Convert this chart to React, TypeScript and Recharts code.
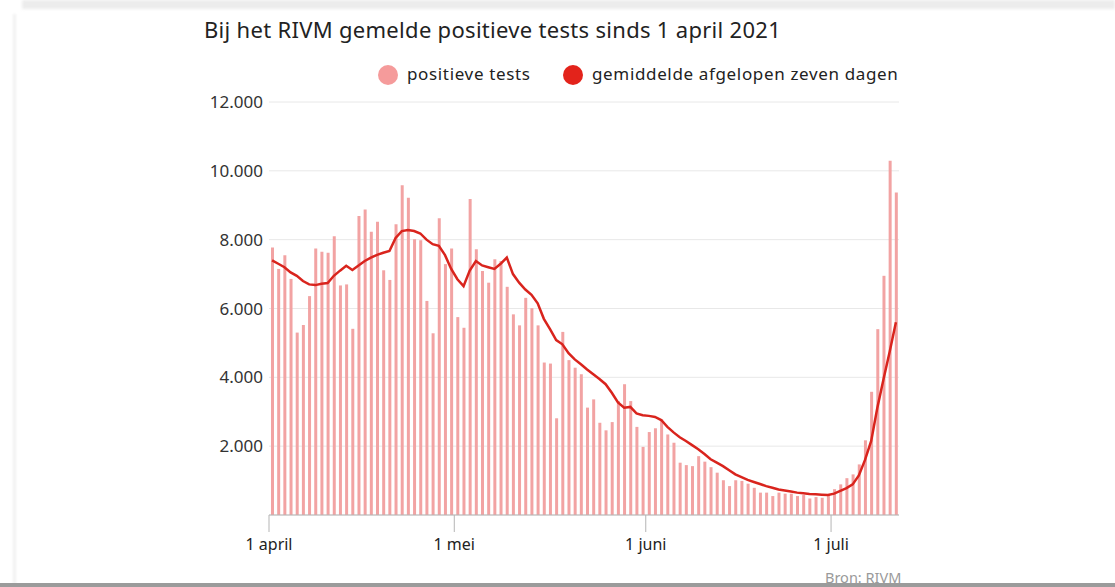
import React from 'react';
import {
  ComposedChart, Bar, Line, XAxis, YAxis, CartesianGrid,
} from 'recharts';

// daily positive tests, 1 april – 11 juli 2021
const tests = [
  7770, 7150, 7550, 6860, 5300, 5520, 6360, 7740, 7650, 7620,
  8100, 6670, 6700, 5410, 8690, 8880, 8230, 8520, 7110, 6830,
  8450, 9580, 9220, 8010, 7980, 6220, 5280, 8620, 7290, 7740,
  5750, 5440, 9180, 7720, 7090, 6750, 7430, 7380, 6630, 5830,
  5510, 6310, 6010, 5510, 4430, 4400, 2810, 5320, 4500, 4280,
  4090, 3120, 3360, 2680, 2460, 2700, 3310, 3800, 3310, 2560,
  1980, 2410, 2520, 2780, 2340, 2100, 1520, 1450, 1420, 1710,
  1550, 1390, 1230, 1010, 840, 1010, 990, 910, 790, 650,
  650, 550, 650, 620, 620, 550, 580, 480, 520, 500,
  580, 750, 890, 1070, 1180, 1470, 2170, 3580, 5400, 6950,
  10290, 9370,
];

// seven-day average as drawn
const average = [
  7400, 7300, 7200, 7050, 6950, 6800, 6700, 6680, 6720, 6740,
  6950, 7100, 7240, 7120, 7250, 7380, 7480, 7560, 7620, 7670,
  8050, 8250, 8280, 8250, 8180, 8000, 7870, 7820, 7550, 7150,
  6850, 6650, 7100, 7380, 7250, 7200, 7150, 7300, 7480, 7000,
  6750, 6550, 6400, 6150, 5700, 5400, 5080, 4960, 4700, 4520,
  4380, 4230, 4090, 3950, 3800, 3550, 3270, 3120, 3140, 2950,
  2900, 2880, 2850, 2760, 2560, 2400, 2260, 2150, 2030, 1910,
  1770, 1620, 1520, 1420, 1300, 1180, 1100, 1020, 960, 900,
  840, 790, 740, 710, 680, 650, 630, 610, 600, 590,
  580, 620, 700, 780, 890, 1150, 1600, 2150, 3120, 3950,
  4750, 5600,
];

const monthTicks = [-0.5, 29.5, 60.5, 90.5];
const monthLabels = ['1 april', '1 mei', '1 juni', '1 juli'];
const valueTicks = [2000, 4000, 6000, 8000, 10000, 12000];

const data = tests.map((v, i) => ({ day: i, tests: v, average: average[i] }));

const FONT = '"Noto Sans", "Open Sans", sans-serif';
const BAR_COLOR = '#f2a3a3';
const LINE_COLOR = '#d9241d';

const fmtThousands = (v: number) => `${v / 1000}.000`;
const fmtMonth = (v: number) => monthLabels[monthTicks.indexOf(v)] ?? '';

const dot = (color: string, cx: number): React.CSSProperties => ({
  position: 'absolute', left: cx - 10, top: 65, width: 20, height: 20,
  borderRadius: 10, background: color,
});

const legendText: React.CSSProperties = {
  position: 'absolute', top: 62, fontSize: 17, letterSpacing: 0.65,
  color: '#222', whiteSpace: 'nowrap',
};

const App: React.FC = () => {
  return (
    <div style={{
      position: 'absolute', left: 0, top: 0, width: 1115, height: 587,
      background: '#fff', overflow: 'hidden', fontFamily: FONT,
    }}>
      {/* frame of the screenshot */}
      <div style={{ position: 'absolute', left: 22, top: 0, width: 1093, height: 9, background: '#ececec', filter: 'blur(1.5px)' }} />
      <div style={{ position: 'absolute', left: 13, top: 14, width: 3, height: 570, background: '#f1f1f1', filter: 'blur(1px)' }} />

      <div style={{
        position: 'absolute', left: 204, top: 14, fontSize: 22, letterSpacing: 0.3,
        color: '#222', whiteSpace: 'nowrap',
      }}>
        Bij het RIVM gemelde positieve tests sinds 1 april 2021
      </div>

      <div style={dot('#f59b9b', 388)} />
      <div style={{ ...legendText, left: 407 }}>positieve tests</div>
      <div style={dot('#e3231b', 573)} />
      <div style={{ ...legendText, left: 592 }}>gemiddelde afgelopen zeven dagen</div>

      <div style={{ position: 'absolute', left: 0, top: 0 }}>
        <ComposedChart
          width={1115}
          height={587}
          data={data}
          margin={{ top: 102, right: 216, bottom: 32, left: 209 }}
        >
          <CartesianGrid vertical={false} stroke="#e8e8e8" />
          <XAxis
            dataKey="day"
            type="number"
            domain={[-0.5, 101.5]}
            ticks={monthTicks}
            interval={0}
            tickFormatter={fmtMonth}
            height={40}
            stroke="#b5b5b5"
            tickSize={17}
            tickMargin={7}
            tick={{ fill: '#222', fontSize: 16, fontFamily: FONT }}
          />
          <YAxis
            domain={[0, 12000]}
            ticks={valueTicks}
            tickFormatter={fmtThousands}
            width={60}
            axisLine={false}
            tickLine={false}
            tickSize={0}
            tickMargin={6}
            tick={{ fill: '#333', fontSize: 17, fontFamily: FONT }}
          />
          <Bar dataKey="tests" fill={BAR_COLOR} barSize={3} isAnimationActive={false} />
          <Line
            type="linear"
            dataKey="average"
            stroke={LINE_COLOR}
            strokeWidth={2.5}
            dot={false}
            isAnimationActive={false}
          />
        </ComposedChart>
      </div>

      <div style={{ position: 'absolute', left: 825, top: 567, fontSize: 14.5, color: '#9a9a9a' }}>Bron: RIVM</div>
      <div style={{ position: 'absolute', left: 0, top: 583, width: 1115, height: 4, background: '#9b9b9b' }} />
    </div>
  );
};

export default App;
